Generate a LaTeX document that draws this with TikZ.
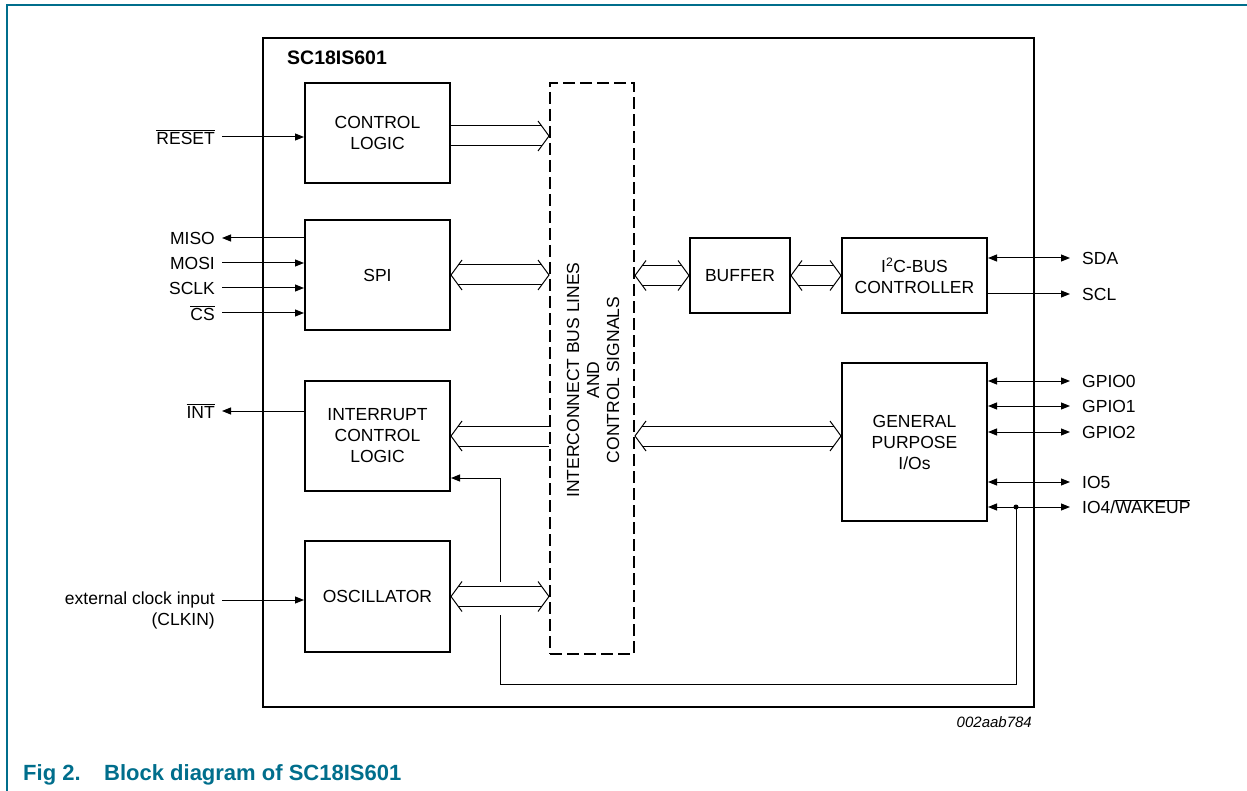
\documentclass[tikz,border=0pt]{standalone}
\usepackage{fontspec}
\setmainfont{Liberation Sans}
\usepackage{tikz}
\usetikzlibrary{arrows.meta,calc}
\definecolor{nxpteal}{rgb}{0.,0.43,0.55}

\newcommand{\lblfont}{\fontsize{17.5}{21}\selectfont}
% hollow bus connector: #1 left end, #2 right end, #3/#4 = 1 for a head at that end
\newcommand{\buslink}[4]{%
  \coordinate (bl) at (#1);
  \coordinate (br) at (#2);
  \draw[busline] ($(bl)+(#3*7,-10)$) -- ($(br)+(-#4*7,-10)$);
  \draw[busline] ($(bl)+(#3*7,10)$) -- ($(br)+(-#4*7,10)$);
  \ifnum#3=1 \draw[busline] ($(bl)+(11,-15)$) -- (bl) -- ($(bl)+(11,15)$);\fi
  \ifnum#4=1 \draw[busline] ($(br)+(-11,-15)$) -- (br) -- ($(br)+(-11,15)$);\fi
}

\begin{document}
\begin{tikzpicture}[line cap=butt,line join=miter,>={Triangle[length=9pt,width=7pt]},x=1pt,y=-1pt,
  block/.style={draw,line width=2pt,align=center,font=\lblfont,inner sep=0pt},
  busline/.style={line width=1pt},
  sig/.style={font=\lblfont,inner xsep=7pt,inner ysep=0pt,anchor=east},
  pin/.style={font=\lblfont,inner xsep=12pt,inner ysep=0pt,anchor=west},
  wire/.style={line width=1pt}]
\useasboundingbox (0,0) rectangle (1247,791);
\draw [nxpteal,line width=1.3pt] (7,791) -- (7,5) -- (1247,5);

% chip outline and blocks
\node[block,minimum width=771pt,minimum height=669pt] (chip) at (648.5,372.5) {};
\node[anchor=west,inner sep=0pt,font=\fontsize{19.5}{22}\selectfont\bfseries] (title) at (287,58) {SC18IS601};
\node[block,minimum width=145pt,minimum height=100pt] (ctrl) at (377.5,133) {CONTROL\\LOGIC};
\node[block,minimum width=145pt,minimum height=110pt] (spi) at (377.5,275) {SPI};
\node[block,minimum width=145pt,minimum height=110pt] (intr) at (377.5,436) {INTERRUPT\\CONTROL\\LOGIC};
\node[block,minimum width=145pt,minimum height=111pt] (osc) at (377.5,596.5) {OSCILLATOR};
\node[block,dash pattern=on 12pt off 5pt,minimum width=84pt,minimum height=571pt] (bus) at (592,368.5) {};
\node[rotate=90,align=center,font=\fontsize{17.5}{20}\selectfont] (buslbl) at (593,380) {INTERCONNECT BUS LINES\\AND\\CONTROL SIGNALS};
\node[block,minimum width=100pt,minimum height=75pt] (buf) at (740,275.5) {BUFFER};
\node[block,minimum width=145pt,minimum height=75pt] (i2c) at (914.5,275.5) {I\textsuperscript{2}C-BUS\\CONTROLLER};
\node[block,minimum width=145pt,minimum height=158pt] (gpio) at (914.5,442) {GENERAL\\PURPOSE\\I/Os};

% bus connectors
\coordinate (ctrlout) at ($(ctrl.east)+(0,3)$);
\buslink{ctrlout}{bus.west |- ctrlout}{0}{1}
\buslink{spi.east}{bus.west |- spi.east}{1}{1}
\buslink{bus.east |- buf.west}{buf.west}{1}{1}
\buslink{buf.east}{i2c.west}{1}{1}
\buslink{intr.east}{bus.west |- intr.east}{1}{0}
\buslink{bus.east |- intr.east}{gpio.west |- intr.east}{1}{1}
\buslink{osc.east}{bus.west |- osc.east}{1}{1}

% external pins, left
\node[sig] (reset) at (222,137) {$\overline{\hbox{RESET}}$};
\node[sig] (miso) at (222,238) {MISO};
\node[sig] (mosi) at (222,263) {MOSI};
\node[sig] (sclk) at (222,288) {SCLK};
\node[sig] (cs) at (222,313) {$\overline{\hbox{CS}}$};
\node[sig] (int) at (222,411) {$\overline{\hbox{INT}}$};
\node[sig] (clkin) at (222,600) {external clock input};
\node[sig] (clkin2) at (222,621) {(CLKIN)};
\draw[wire,->] (reset.east) -- (ctrl.west |- reset.east);
\draw[wire,->] (spi.west |- miso.east) -- (miso.east);
\draw[wire,->] (mosi.east) -- (spi.west |- mosi.east);
\draw[wire,->] (sclk.east) -- (spi.west |- sclk.east);
\draw[wire,->] (cs.east) -- (spi.west |- cs.east);
\draw[wire,->] (intr.west |- int.east) -- (int.east);
\draw[wire,->] (clkin.east) -- (osc.west |- clkin.east);

% external pins, right
\node[pin] (sda) at (1070,258) {SDA};
\node[pin] (scl) at (1070,294) {SCL};
\node[pin] (gpio0) at (1070,381) {GPIO0};
\node[pin] (gpio1) at (1070,406) {GPIO1};
\node[pin] (gpio2) at (1070,432) {GPIO2};
\node[pin] (io5) at (1070,482) {IO5};
\node[pin] (io4) at (1070,507) {IO4/$\overline{\hbox{WAKEUP}}$};
\draw[wire,<->] (i2c.east |- sda.west) -- (sda.west);
\draw[wire,->] (i2c.east |- scl.west) -- (scl.west);
\foreach \p in {gpio0,gpio1,gpio2,io5,io4}
  \draw[wire,<->] (gpio.east |- \p.west) -- (\p.west);

% wake-up feedback to interrupt logic
\coordinate (tap) at (1016,507);
\fill (tap) circle (2.5pt);
\draw[wire] (tap) |- (500,684) -- (500,615);
\draw[wire,->] (500,582) |- ($(intr.south east)+(0,-14)$);

% caption
\node[anchor=east,inner sep=0pt,font=\fontsize{15}{18}\selectfont\itshape] (docid) at (1032,722) {002aab784};
\node[anchor=base west,inner sep=0pt,text=nxpteal,font=\fontsize{22}{26}\selectfont\bfseries] (fig) at (23,780) {Fig 2.};
\node[anchor=base west,inner sep=0pt,text=nxpteal,font=\fontsize{22}{26}\selectfont\bfseries] (figtext) at (104,780) {Block diagram of SC18IS601};
\end{tikzpicture}
\end{document}
